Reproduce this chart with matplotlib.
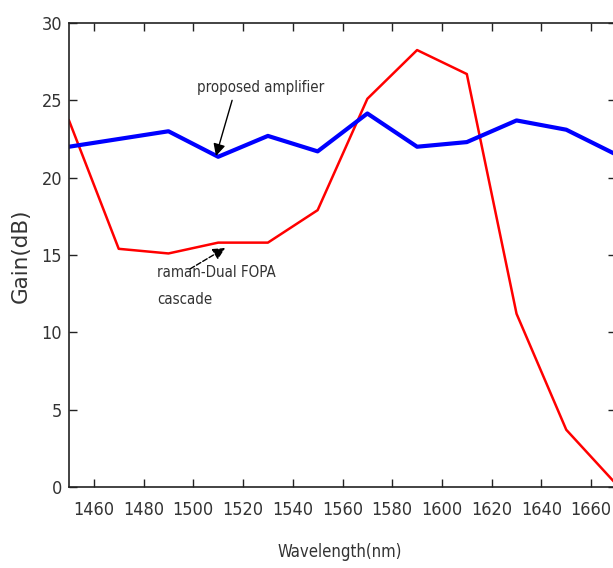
import matplotlib.pyplot as plt

# wavelength grid (nm) and gains (dB)
wavelength = [1450, 1470, 1490, 1510, 1530, 1550, 1570, 1590, 1610, 1630, 1650, 1670]
proposed = [22.0, 22.5, 23.0, 21.35, 22.7, 21.7, 24.15, 22.0, 22.3, 23.7, 23.1, 21.5]
raman_fopa = [23.7, 15.4, 15.1, 15.8, 15.8, 17.9, 25.1, 28.25, 26.7, 11.2, 3.7, 0.2]

xticks = [1460, 1480, 1500, 1520, 1540, 1560, 1580, 1600, 1620, 1640, 1660]
yticks = [0, 5, 10, 15, 20, 25, 30]

plt.rcParams['font.family'] = ['DejaVu Sans']
plt.rcParams['font.stretch'] = 'condensed'
txt = '#333333'

fig = plt.figure(figsize=(6.13, 5.68), dpi=100)
W, H = 613, 568
ax = fig.add_axes([69 / W, (H - 487) / H, (616 - 69) / W, 464 / H])

ax.plot(wavelength, raman_fopa, color='red', lw=1.8)
ax.plot(wavelength, proposed, color='blue', lw=3)

ax.set_xlim(1450, 1670)
ax.set_ylim(0, 30)
ax.set_xticks(xticks)
ax.set_yticks(yticks)
ax.tick_params(direction='in', top=True, right=True, length=6, width=1,
               labelsize=13, colors='#222222', labelcolor=txt)
ax.tick_params(axis='x', pad=10)
ax.tick_params(axis='y', pad=5)
for s in ax.spines.values():
    s.set_linewidth(1.2)
    s.set_color('#222222')

ax.set_xlabel('Wavelength(nm)', fontsize=12, color=txt)
ax.set_ylabel('Gain(dB)', fontsize=15.5, color=txt, fontstretch='normal')
ax.xaxis.set_label_coords((340 - 69) / 547, -(543 - 487) / 464)
ax.yaxis.set_label_coords(-(69 - 31) / 547, (487 - 256) / 464)

# annotations
ax.text(1527, 25.8, 'proposed amplifier', fontsize=10.8, color=txt, ha='center', va='center')
ax.annotate('', xy=(1509.1, 21.4), xytext=(1515.6, 25.0),
            arrowprops=dict(arrowstyle='-|>', color='black', lw=1,
                            mutation_scale=18, shrinkA=0, shrinkB=0))
ax.text(1485.4, 13.9, 'raman-Dual FOPA', fontsize=10.8, color=txt, ha='left', va='center')
ax.text(1485.4, 12.1, 'cascade', fontsize=10.8, color=txt, ha='left', va='center')
ax.annotate('', xy=(1512.8, 15.45), xytext=(1498.7, 14.1),
            arrowprops=dict(arrowstyle='-|>', color='black', lw=1, ls='--',
                            mutation_scale=18, shrinkA=0, shrinkB=0))

fig.savefig('out.png', dpi=100)
